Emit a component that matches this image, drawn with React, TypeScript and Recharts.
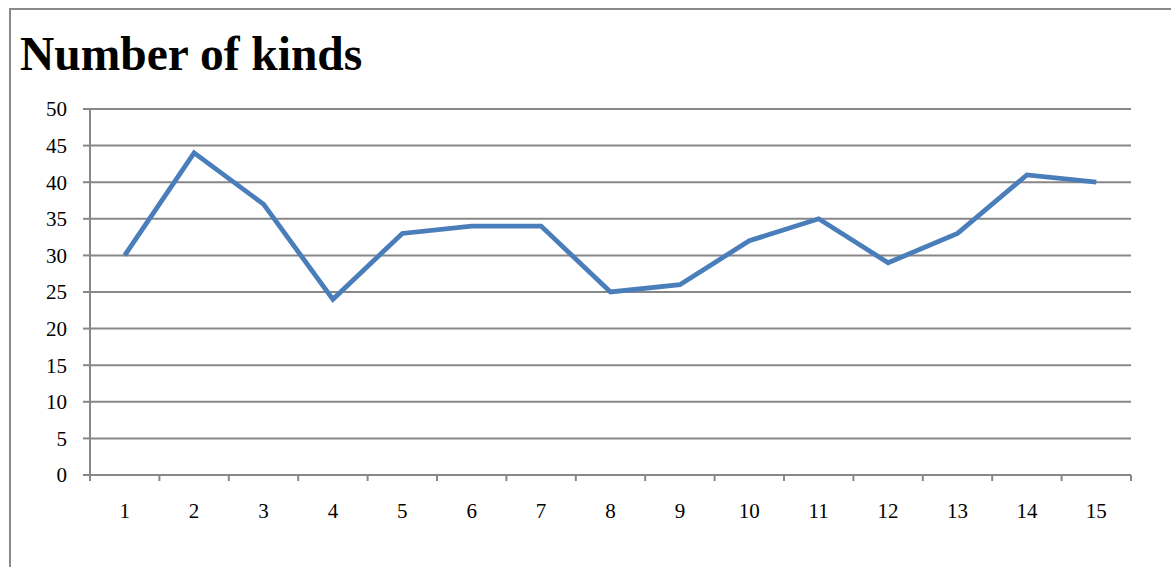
import React from "react";
import { LineChart, Line, XAxis, YAxis, CartesianGrid } from "recharts";

const categories = [1, 2, 3, 4, 5, 6, 7, 8, 9, 10, 11, 12, 13, 14, 15];
const kinds = [30, 44, 37, 24, 33, 34, 34, 25, 26, 32, 35, 29, 33, 41, 40];
const yTicks = [0, 5, 10, 15, 20, 25, 30, 35, 40, 45, 50];
const title = "Number of kinds";

const data = categories.map((c, i) => ({ x: c, v: kinds[i] }));
const boundaries = [...categories.map((c) => c - 0.5), categories[categories.length - 1] + 0.5];
const xTicks = [...boundaries, ...categories].sort((a, b) => a - b);
const labelSet = new Set(categories);

const FONT = '"Liberation Serif", "Times New Roman", serif';
const GRID = "#878787";

function XTick(props: any) {
  const { x, y, payload } = props;
  const v = payload.value;
  if (labelSet.has(v)) {
    return (
      <text x={x} y={y + 43} textAnchor="middle" fill="#000" style={{ fontFamily: FONT, fontSize: 21 }}>
        {String(v)}
      </text>
    );
  }
  return <line x1={x} x2={x} y1={y} y2={y + 6} stroke={GRID} strokeWidth={2} />;
}

function YTick(props: any) {
  const { x, y, payload } = props;
  return (
    <text x={x} y={y} dy="0.35em" textAnchor="end" fill="#000" style={{ fontFamily: FONT, fontSize: 21 }}>
      {String(payload.value)}
    </text>
  );
}

export default function App() {
  return (
    <div style={{ position: "absolute", left: 0, top: 0, width: 1171, height: 567, overflow: "hidden", background: "#fff" }}>
      <div
        style={{
          position: "absolute",
          left: 9,
          top: 8,
          width: 1180,
          height: 600,
          borderTop: "2px solid #8a8a8a",
          borderLeft: "2px solid #8a8a8a",
          boxSizing: "border-box",
        }}
      />
      <div
        style={{
          position: "absolute",
          left: 20,
          top: 26,
          fontFamily: FONT,
          fontWeight: "bold",
          fontSize: 47.5,
          lineHeight: "56px",
          color: "#000",
          whiteSpace: "nowrap",
        }}
      >
        {title}
      </div>
      <div style={{ position: "absolute", left: 0, top: 0 }}>
        <LineChart width={1171} height={567} data={data} margin={{ top: 109, right: 40, bottom: 62, left: 30 }}>
          <CartesianGrid vertical={false} stroke={GRID} strokeWidth={2} />
          <XAxis
            dataKey="x"
            type="number"
            domain={[0.5, 15.5]}
            ticks={xTicks}
            interval={0}
            axisLine={{ stroke: GRID, strokeWidth: 2 }}
            tickLine={false}
            tickSize={0}
            tickMargin={0}
            tick={<XTick />}
            height={30}
          />
          <YAxis
            type="number"
            domain={[0, 50]}
            ticks={yTicks}
            interval={0}
            width={60}
            axisLine={{ stroke: GRID, strokeWidth: 2 }}
            tickLine={{ stroke: GRID, strokeWidth: 2 }}
            tickSize={7}
            tickMargin={16}
            tick={<YTick />}
          />
          <Line
            type="linear"
            dataKey="v"
            stroke="#4a7ebb"
            strokeWidth={4.8}
            dot={false}
            activeDot={false}
            isAnimationActive={false}
          />
        </LineChart>
      </div>
    </div>
  );
}
